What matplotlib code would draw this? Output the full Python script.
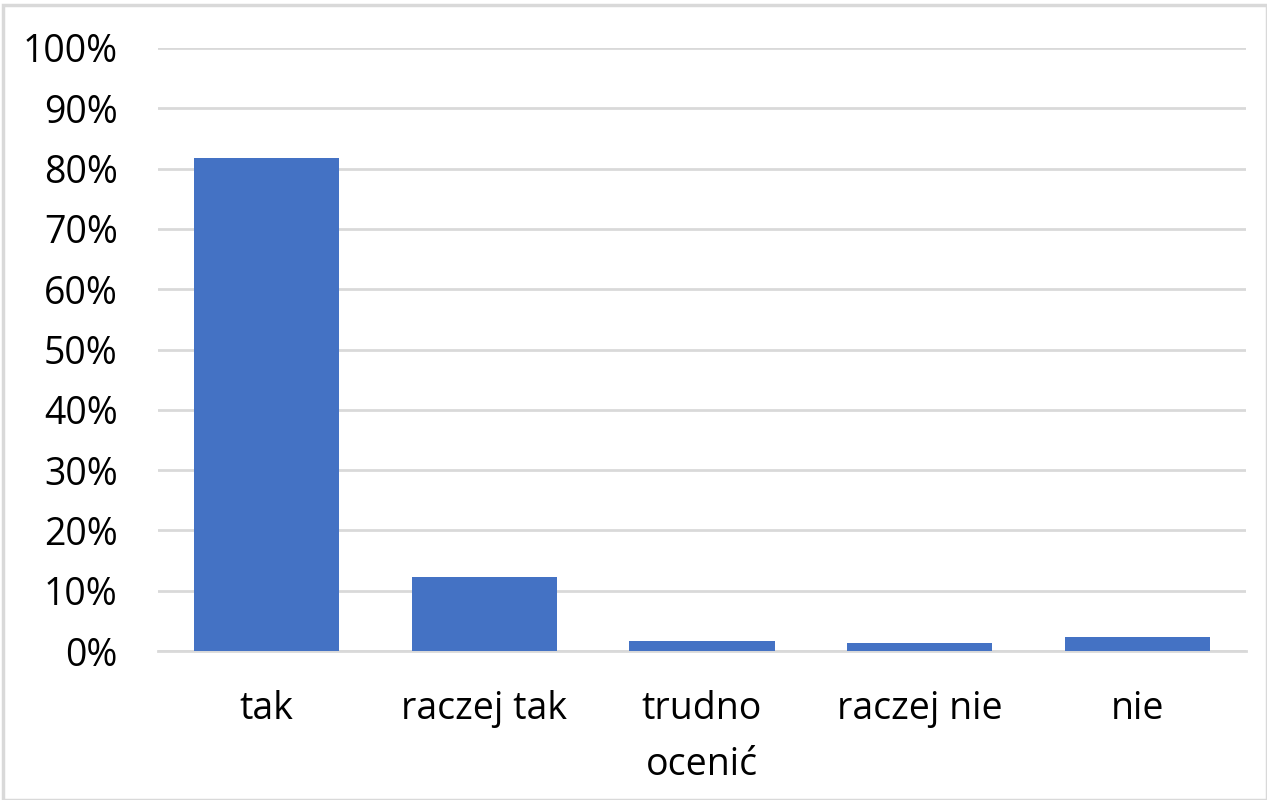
import matplotlib.pyplot as plt
from matplotlib.patches import Rectangle
from matplotlib.ticker import PercentFormatter

# dane
kategorie = ["tak", "raczej tak", "trudno\nocenić", "raczej nie", "nie"]
wartosci = [81.7, 12.2, 1.7, 1.3, 2.3]

plt.rcParams['font.family'] = ['Open Sans', 'DejaVu Sans']

fig = plt.figure(figsize=(12.67, 8), dpi=100)
ax = fig.add_axes([0.1247, 0.18625, 0.8587, 0.75375])

ax.bar(range(len(kategorie)), wartosci, width=0.667, color="#4472C4", zorder=3)

ax.set_xlim(-0.5, len(kategorie) - 0.5)
ax.set_ylim(0, 100)
ax.set_yticks(range(0, 101, 10))
ax.yaxis.set_major_formatter(PercentFormatter(decimals=0))
ax.set_xticks(range(len(kategorie)))
ax.set_xticklabels(kategorie, linespacing=1.62)

ax.grid(axis="y", color="#d9d9d9", linewidth=2, zorder=0)
for s in ["top", "right", "left"]:
    ax.spines[s].set_visible(False)
ax.spines["bottom"].set_color("#d9d9d9")
ax.spines["bottom"].set_linewidth(2)

ax.tick_params(axis="y", length=0, pad=29, labelsize=27, labelcolor="#000000")
ax.tick_params(axis="x", length=0, pad=28, labelsize=27, labelcolor="#000000")

# ramka wokół wykresu
fig.patches.append(Rectangle((0.0025, 0.0), 0.9975, 0.994, transform=fig.transFigure,
                             fill=False, edgecolor="#d9d9d9", linewidth=2.5))

fig.savefig("out.png", dpi=100)
